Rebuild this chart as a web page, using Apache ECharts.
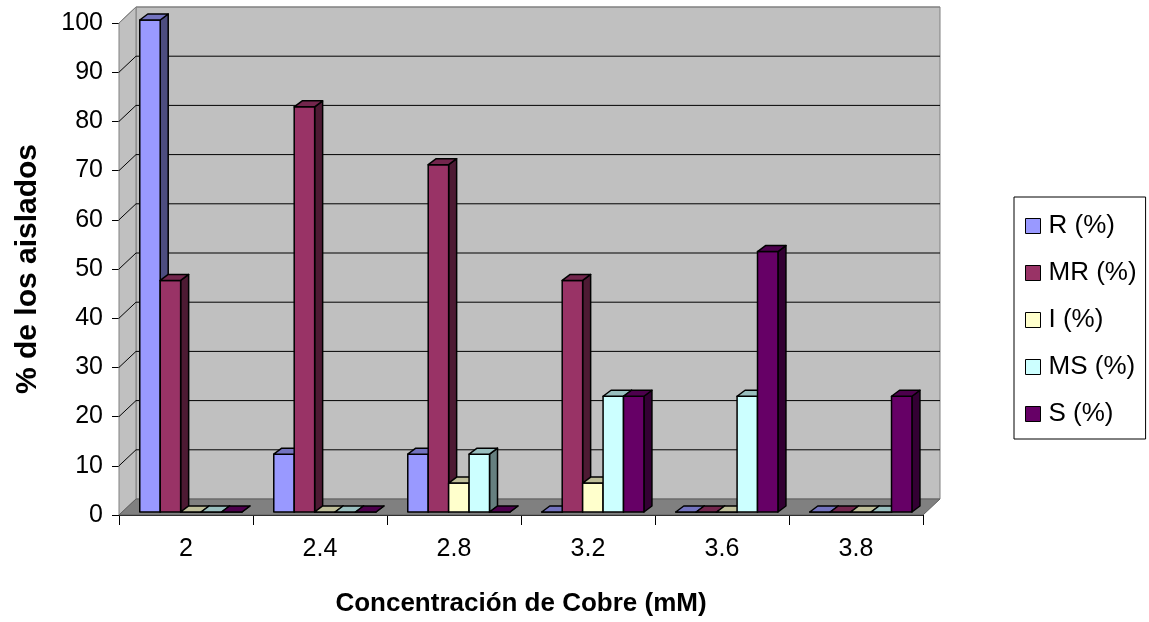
<!DOCTYPE html>
<html>
<head>
<meta charset="utf-8">
<script src="https://cdn.jsdelivr.net/npm/echarts@6/dist/echarts.min.js"></script>
<style>
  html, body { margin: 0; padding: 0; background: #ffffff; }
  #chart { width: 1149px; height: 622px; }
</style>
</head>
<body>
<div id="chart"></div>
<script>
// Copper concentration levels (mM)
const categories = ['2', '2.4', '2.8', '3.2', '3.6', '3.8'];
// Percentage of isolates in each tolerance class
const rPct  = [100, 11.76, 11.76, 0, 0, 0];
const mrPct = [47.06, 82.35, 70.59, 47.06, 0, 0];
const iPct  = [0, 0, 5.88, 5.88, 0, 0];
const msPct = [0, 0, 11.76, 23.53, 23.53, 0];
const sPct  = [0, 0, 0, 23.53, 52.94, 23.53];
const seriesNames = ['R (%)', 'MR (%)', 'I (%)', 'MS (%)', 'S (%)'];
const yMin = 0, yMax = 100, yStep = 10;

const seriesValues = [rPct, mrPct, iPct, msPct, sPct];
const seriesColors = ['#9999FF', '#993366', '#FFFFCC', '#CCFFFF', '#660066'];

const FONT = "'Liberation Sans', Arial, sans-serif";
// depth of the box (back wall offset) and of each column
const WALL_DX = 17, WALL_DY = -16;
const BAR_DX = 8, BAR_DY = -6;
const BAR_SHIFT = 3;

function shade(hex, f) {
  const n = parseInt(hex.slice(1), 16);
  const r = Math.round(((n >> 16) & 255) * f);
  const g = Math.round(((n >> 8) & 255) * f);
  const b = Math.round((n & 255) * f);
  return 'rgb(' + r + ',' + g + ',' + b + ')';
}

// Walls, floor and gridlines of the 3D box
function renderWalls(params, api) {
  const cs = params.coordSys;
  const x0 = cs.x, x1 = cs.x + cs.width;
  const yTop = api.coord([0, yMax])[1];
  const yBot = api.coord([0, yMin])[1];
  const children = [];
  // back wall
  children.push({
    type: 'rect',
    shape: { x: x0 + WALL_DX, y: yTop + WALL_DY, width: x1 - x0, height: yBot - yTop },
    style: { fill: '#C0C0C0', stroke: '#808080', lineWidth: 1 }
  });
  // side wall
  children.push({
    type: 'polygon',
    shape: { points: [[x0, yTop], [x0 + WALL_DX, yTop + WALL_DY], [x0 + WALL_DX, yBot + WALL_DY], [x0, yBot]] },
    style: { fill: '#C0C0C0', stroke: '#808080', lineWidth: 1 }
  });
  // floor
  children.push({
    type: 'polygon',
    shape: { points: [[x0, yBot], [x1, yBot], [x1 + WALL_DX, yBot + WALL_DY], [x0 + WALL_DX, yBot + WALL_DY]] },
    style: { fill: '#808080', stroke: '#606060', lineWidth: 1 }
  });
  // gridlines
  for (let v = yMin + yStep; v <= yMax; v += yStep) {
    const y = api.coord([0, v])[1];
    children.push({
      type: 'polyline',
      shape: { points: [[x0, y], [x0 + WALL_DX, y + WALL_DY], [x1 + WALL_DX, y + WALL_DY]] },
      style: { fill: null, stroke: v === yMax ? '#808080' : '#000000', lineWidth: 1 }
    });
  }
  return { type: 'group', children: children };
}

// One 3D column: front face, top face and right side face
function makeBarRenderer(sIdx) {
  const color = seriesColors[sIdx];
  const topColor = shade(color, 0.75);
  const sideColor = shade(color, 0.5);
  return function (params, api) {
    const idx = api.value(0);
    const v = api.value(1);
    const base = api.coord([idx, 0]);
    const top = api.coord([idx, v]);
    const band = api.size([1, 0])[0];
    const w = band * 0.1525;
    const x = base[0] - band / 2 + band * 0.155 + sIdx * w;
    const yb = base[1] - BAR_SHIFT;
    const yt = top[1] - BAR_SHIFT;
    const st = { stroke: '#000000', lineWidth: 1.5, lineJoin: 'round' };
    return {
      type: 'group',
      children: [
        {
          type: 'polygon',
          shape: { points: [[x + w, yt], [x + w + BAR_DX, yt + BAR_DY], [x + w + BAR_DX, yb + BAR_DY], [x + w, yb]] },
          style: Object.assign({ fill: sideColor }, st)
        },
        {
          type: 'rect',
          shape: { x: x, y: yt, width: w, height: yb - yt },
          style: Object.assign({ fill: color }, st)
        },
        {
          type: 'polygon',
          shape: { points: [[x, yt], [x + w, yt], [x + w + BAR_DX, yt + BAR_DY], [x + BAR_DX, yt + BAR_DY]] },
          style: Object.assign({ fill: topColor }, st)
        }
      ]
    };
  };
}

const chart = echarts.init(document.getElementById('chart'), null, { renderer: 'canvas' });

const series = [{
  type: 'custom',
  silent: true,
  z: 1,
  renderItem: renderWalls,
  data: [[0, 0]],
  tooltip: { show: false }
}];
seriesValues.forEach(function (vals, s) {
  series.push({
    type: 'custom',
    name: seriesNames[s],
    z: 2,
    renderItem: makeBarRenderer(s),
    itemStyle: { color: seriesColors[s], borderColor: '#000', borderWidth: 1 },
    encode: { x: 0, y: 1 },
    data: vals.map(function (v, i) { return [i, v]; })
  });
});

chart.setOption({
  animation: false,
  backgroundColor: '#ffffff',
  textStyle: { fontFamily: FONT },
  grid: { left: 119, right: 226, top: 23, bottom: 107, containLabel: false },
  legend: {
    data: seriesNames,
    orient: 'vertical',
    left: 1014,
    top: 197,
    padding: [14, 9, 10, 11],
    itemWidth: 15,
    itemHeight: 15,
    itemGap: 17,
    borderColor: '#000000',
    borderWidth: 1,
    icon: 'rect',
    selectedMode: false,
    itemStyle: { borderColor: '#000', borderWidth: 1 },
    textStyle: { fontSize: 26, color: '#000', fontFamily: FONT, lineHeight: 30, padding: [0, 0, 0, 3] }
  },
  xAxis: {
    type: 'category',
    data: categories,
    boundaryGap: true,
    name: 'Concentración de Cobre (mM)',
    nameLocation: 'middle',
    nameGap: 76,
    nameTextStyle: { fontSize: 26, fontWeight: 'bold', color: '#000', fontFamily: FONT },
    axisLine: { lineStyle: { color: '#000', width: 1 } },
    axisTick: { show: true, length: 10, lineStyle: { color: '#000' } },
    axisLabel: { fontSize: 25, color: '#000', margin: 22, fontFamily: FONT },
    splitLine: { show: false }
  },
  yAxis: {
    type: 'value',
    min: yMin,
    max: yMax,
    interval: yStep,
    name: '% de los aislados',
    nameLocation: 'middle',
    nameRotate: 90,
    nameGap: 76,
    nameTextStyle: { fontSize: 30, fontWeight: 'bold', color: '#000', fontFamily: FONT },
    axisLine: { show: true, lineStyle: { color: '#808080', width: 1 } },
    axisTick: { show: true, length: 7, lineStyle: { color: '#000' } },
    axisLabel: { fontSize: 25, color: '#000', margin: 16, fontFamily: FONT },
    splitLine: { show: false }
  },
  series: series
});
</script>
</body>
</html>
